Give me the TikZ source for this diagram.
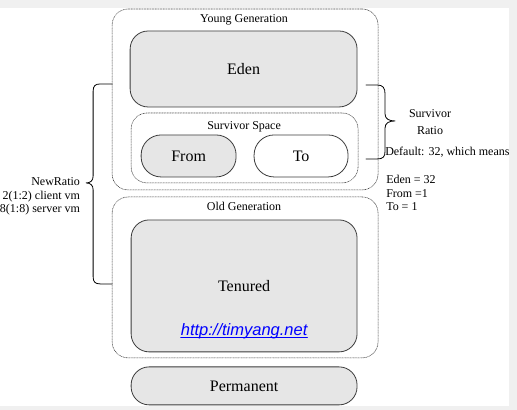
\documentclass[tikz,border=0pt]{standalone}
\usepackage{fontspec}
\setmainfont{Liberation Serif}
\newfontfamily\linkfont{Liberation Sans}
\usetikzlibrary{positioning}
\definecolor{memfill}{RGB}{230,230,230}
\definecolor{edgegray}{RGB}{60,60,60}
\definecolor{pagegray}{RGB}{240,240,240}
\begin{document}
\begin{tikzpicture}[x=1pt, y=-1pt, line join=round, line cap=round,
  region/.style={draw=edgegray, line width=0.8pt, fill=memfill, rounded corners=18pt,
    inner sep=0pt, outer sep=0pt, font=\fontsize{16}{18}\selectfont},
  space/.style={draw=darkgray, densely dotted, line width=0.6pt, rounded corners=16pt,
    inner sep=0pt, outer sep=0pt},
  small/.style={font=\fontsize{12}{13.5}\selectfont, inner sep=0pt}]
	%%%%%%%%%%%%%%%%%%%%%%%%%%%%%%%%%
	\fill[pagegray] (0,0) rectangle (517,410);
	\fill[white] (0,8) rectangle (509,406);
	%%%%%%%%%%%%%%%%%%%%%%%%%%%%%%%%%
	\node[space, minimum width=266pt, minimum height=181pt] (young) at (245,99.5) {};
	\node[space, minimum width=227pt, minimum height=70pt] (survivor) at (244.5,148) {};
	\node[space, minimum width=266pt, minimum height=161pt] (old) at (245,277.5) {};
	\node[small] (younglbl) at (244,20) {Young Generation};
	\node[small] (survivorlbl) at (244,127) {Survivor Space};
	\node[small] (oldlbl) at (244,206) {Old Generation};
	%%%%%%%%%%%%%%%%%%%%%%%%%%%%%%%%%
	\node[region, minimum width=227pt, minimum height=76pt] (eden) at (243.5,69) {Eden};
	\node[region, rounded corners=20pt, minimum width=95pt, minimum height=42pt] (from) at (188.5,156) {From};
	\node[region, rounded corners=20pt, fill=white, minimum width=94pt, minimum height=42pt] (to) at (301,156) {To};
	\node[region, minimum width=226pt, minimum height=132pt] (tenured) at (244,286) {Tenured};
	\node[region, minimum width=226pt, minimum height=38pt] (permanent) at (244,386) {Permanent};
	\node[inner sep=0pt, text=blue, font=\linkfont\itshape\fontsize{16.5}{18}\selectfont] (link) at (244,331) {http://timyang.net};
	\draw[blue, line width=0.7pt] ([yshift=-1.8pt]link.base west) -- ([yshift=-1.8pt]link.base east);
	%%%%%%%%%%%%%%%%%%%%%%%%%%%%%%%%%
	\coordinate (nrTop) at (112,84);
	\coordinate (nrBot) at (112,284);
	\coordinate (srTop) at (366,85);
	\coordinate (srBot) at (366,159);
	\draw[line width=0.8pt] (nrTop) -- (100,84) .. controls (95,84) and (93,86) .. (93,91) -- (93,176)
		.. controls (93,181) and (90,183) .. (86,183) .. controls (90,183) and (93,185) .. (93,190)
		-- (93,277) .. controls (93,282) and (95,284) .. (100,284) -- (nrBot);
	\draw[line width=0.8pt] (srTop) -- (377,85) .. controls (383,85) and (385,88) .. (385,94) -- (385,114)
		.. controls (385,119) and (389,121) .. (395,121) .. controls (389,121) and (385,123) .. (385,128)
		-- (385,151) .. controls (385,157) and (383,159) .. (377,159) -- (srBot);
	%%%%%%%%%%%%%%%%%%%%%%%%%%%%%%%%%
	\node[small, align=right, anchor=north east] (newratio) at (80,177.5) {NewRatio\\2(1:2) client vm\\8(1:8) server vm};
	\node[small, align=center, font=\fontsize{12}{17}\selectfont] (ratio) at (430,122.5) {Survivor\\Ratio};
	\node[small, anchor=west] (default) at (385,152) {Default: 32, which means};
	\node[small, align=left, anchor=north west] (means) at (386,175.5) {Eden = 32\\From =1\\To = 1};
\end{tikzpicture}
\end{document}
